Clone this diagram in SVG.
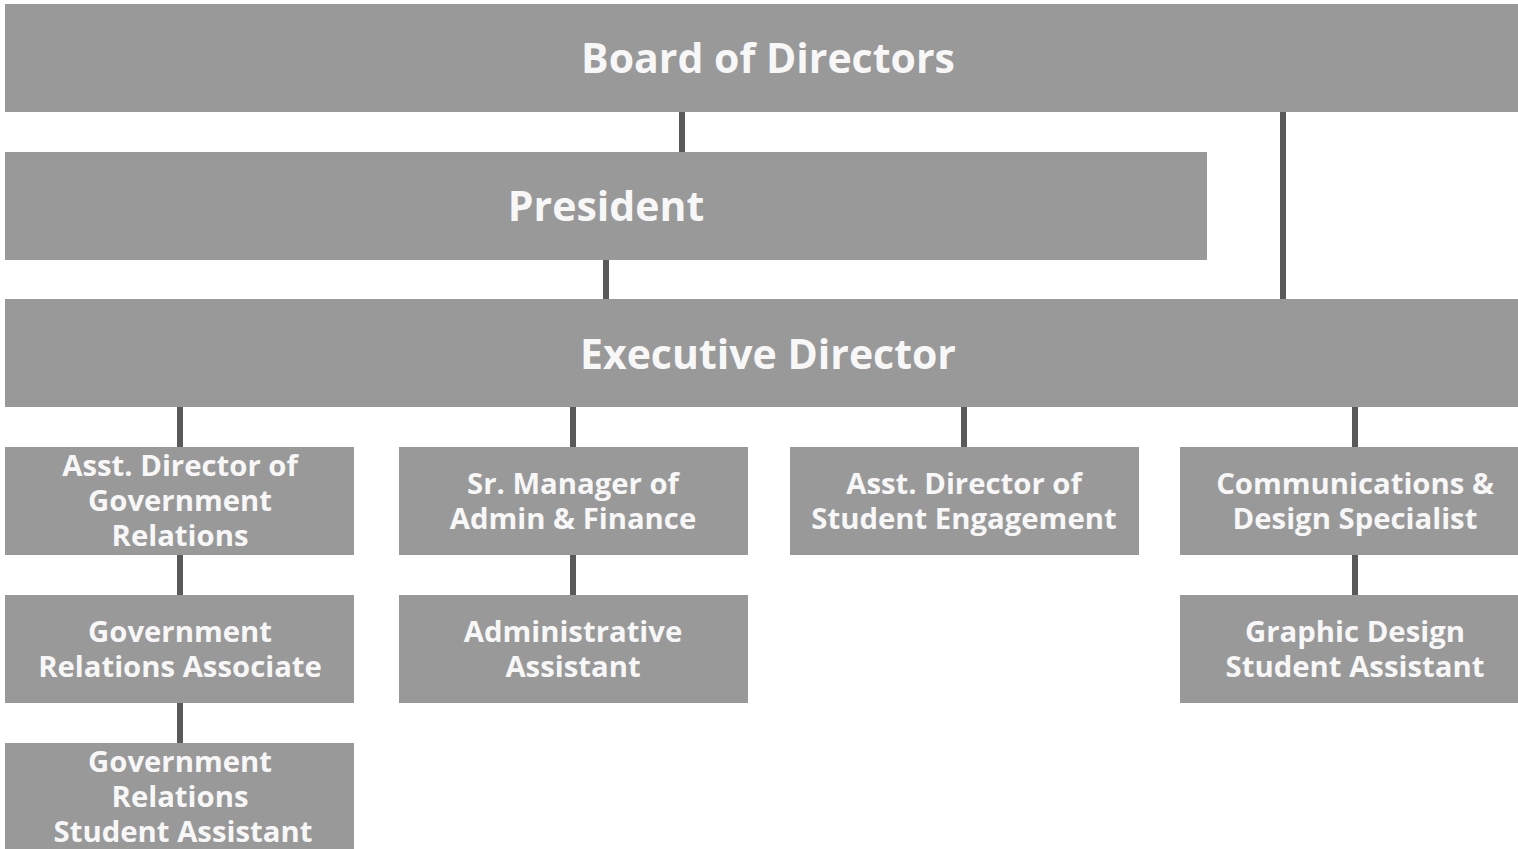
<svg xmlns="http://www.w3.org/2000/svg" width="1518" height="849" viewBox="0 0 1518 849">
<style>
.box{fill:#999999}
.t{font-family:"Open Sans","Noto Sans","Liberation Sans",sans-serif;font-weight:bold;fill:#f7f7f7;text-anchor:middle}
.big{font-size:41px}
.sm{font-size:29.3px}
.c{stroke:#595959;stroke-width:6;fill:none}
</style>
<rect width="1518" height="849" fill="#ffffff"/>
<g id="connectors">
<line class="c" x1="682" y1="111" x2="682" y2="152"/>
<line class="c" x1="1283" y1="111" x2="1283" y2="299"/>
<line class="c" x1="606" y1="259" x2="606" y2="299"/>
<line class="c" x1="180" y1="406" x2="180" y2="447"/>
<line class="c" x1="573" y1="406" x2="573" y2="447"/>
<line class="c" x1="964" y1="406" x2="964" y2="447"/>
<line class="c" x1="1355" y1="406" x2="1355" y2="447"/>
<line class="c" x1="180" y1="554" x2="180" y2="595"/>
<line class="c" x1="573" y1="554" x2="573" y2="595"/>
<line class="c" x1="1355" y1="554" x2="1355" y2="595"/>
<line class="c" x1="180" y1="702" x2="180" y2="743"/>
</g>
<g id="board">
<rect class="box" x="5" y="4" width="1526" height="108"/>
<text class="t big" x="768" y="73">Board of Directors</text>
</g>
<g id="president">
<rect class="box" x="5" y="152" width="1202" height="108"/>
<text class="t big" x="606" y="221">President</text>
</g>
<g id="executive">
<rect class="box" x="5" y="299" width="1526" height="108"/>
<text class="t big" x="768" y="369">Executive Director</text>
</g>
<g id="asst-gov">
<rect class="box" x="5" y="447" width="349" height="108"/>
<text class="t sm" x="180"><tspan x="180" y="476">Asst. Director of</tspan><tspan x="180" y="511">Government</tspan><tspan x="180" y="546">Relations</tspan></text>
</g>
<g id="sr-manager">
<rect class="box" x="399" y="447" width="349" height="108"/>
<text class="t sm" x="573"><tspan x="573" y="494">Sr. Manager of</tspan><tspan x="573" y="529">Admin &amp; Finance</tspan></text>
</g>
<g id="asst-student">
<rect class="box" x="790" y="447" width="349" height="108"/>
<text class="t sm" x="964"><tspan x="964" y="494">Asst. Director of</tspan><tspan x="964" y="529">Student Engagement</tspan></text>
</g>
<g id="comms">
<rect class="box" x="1180" y="447" width="349" height="108"/>
<text class="t sm" x="1355"><tspan x="1355" y="494">Communications &amp;</tspan><tspan x="1355" y="529">Design Specialist</tspan></text>
</g>
<g id="gov-associate">
<rect class="box" x="5" y="595" width="349" height="108"/>
<text class="t sm" x="180"><tspan x="180" y="642">Government</tspan><tspan x="180" y="677">Relations Associate</tspan></text>
</g>
<g id="admin-assistant">
<rect class="box" x="399" y="595" width="349" height="108"/>
<text class="t sm" x="573"><tspan x="573" y="642">Administrative</tspan><tspan x="573" y="677">Assistant</tspan></text>
</g>
<g id="graphic-design">
<rect class="box" x="1180" y="595" width="349" height="108"/>
<text class="t sm" x="1355"><tspan x="1355" y="642">Graphic Design</tspan><tspan x="1355" y="677">Student Assistant</tspan></text>
</g>
<g id="gov-student">
<rect class="box" x="5" y="743" width="349" height="110"/>
<text class="t sm" x="180"><tspan x="180" y="772">Government</tspan><tspan x="180" y="807">Relations</tspan><tspan x="183" y="842">Student Assistant</tspan></text>
</g>
</svg>
